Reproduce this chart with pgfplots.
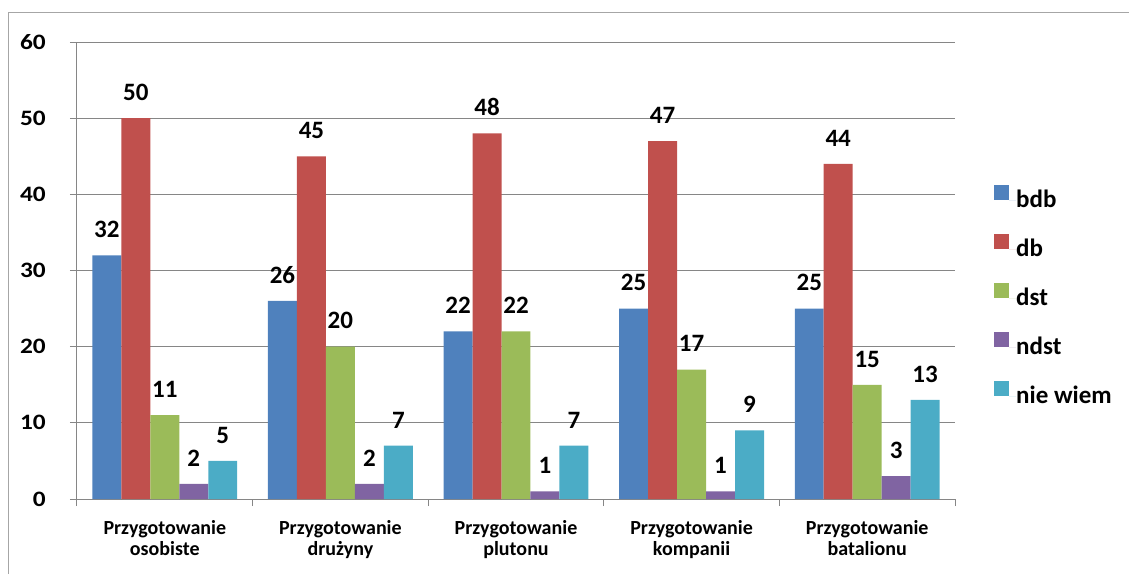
\documentclass[border=0pt]{standalone}
\usepackage{pgfplots}
\pgfplotsset{compat=1.18}
\usepackage{fontspec}
\setmainfont{Carlito}
\newfontfamily\widefont{Carlito}[FakeStretch=1.15]
\definecolor{cbdb}{HTML}{4F81BD}
\definecolor{cdb}{HTML}{C0504D}
\definecolor{cdst}{HTML}{9BBB59}
\definecolor{cndst}{HTML}{8064A2}
\definecolor{cnw}{HTML}{4BACC6}
\definecolor{gridgray}{HTML}{868686}
\definecolor{framegray}{HTML}{A6A6A6}
\begin{document}
\begin{tikzpicture}
\useasboundingbox (0pt,0pt) rectangle (1129pt,574pt);
\draw[framegray, line width=1pt] (8pt,0pt) -- (8pt,561pt) -- (1129pt,561pt);
\begin{axis}[
  at={(77pt,75pt)}, anchor=south west,
  scale only axis, width=878pt, height=457pt,
  ybar=0pt, bar width=0.165,
  xmin=-0.5, xmax=4.5, ymin=0, ymax=60,
  ytick={0,10,...,60},
  yticklabels={0,10,20,30,40,50,60},
  xtick={0,1,2,3,4},
  xticklabels={{Przygotowanie\\osobiste},{Przygotowanie\\drużyny},{Przygotowanie\\plutonu},{Przygotowanie\\kompanii},{Przygotowanie\\batalionu}},
  minor xtick={-0.5,0.5,1.5,2.5,3.5,4.5},
  axis x line=bottom, axis y line=left,
  axis line style={-, draw=gridgray, line width=1pt},
  tick align=outside,
  major tick length=7pt, minor tick length=7pt,
  xtick style={draw=none},
  minor x tick style={draw=gridgray, line width=1pt},
  ytick style={draw=gridgray, line width=1pt},
  ymajorgrids, grid style={draw=gridgray, line width=1pt},
  /pgf/number format/assume math mode=true,
  every y tick label/.append style={font=\widefont\fontsize{22}{26}\selectfont\bfseries, inner sep=0pt, anchor=east, xshift=-24pt},
  xticklabel style={font=\fontsize{20}{21}\selectfont\bfseries, align=center, inner sep=0pt, yshift=-14pt},
  nodes near coords,
  every node near coord/.append style={font=\fontsize{25}{28}\selectfont\bfseries, text=black, yshift=14pt},
  legend style={draw=none, fill=none, at={(1.041,0.692)}, anchor=north west,
    font=\fontsize{25}{28}\selectfont\bfseries,
    nodes={inner sep=0pt, text height=18pt, text depth=5pt},
    row sep=21.5pt},
  legend cell align=left,
  legend image code/.code={\fill[#1] (0pt,1pt) rectangle (15pt,16pt); \path (15pt,0pt) -- (22pt,0pt);},
  clip=false,
]
\addplot[fill=cbdb, draw=none] coordinates {(0,32) (1,26) (2,22) (3,25) (4,25)};
\addplot[fill=cdb, draw=none] coordinates {(0,50) (1,45) (2,48) (3,47) (4,44)};
\addplot[fill=cdst, draw=none] coordinates {(0,11) (1,20) (2,22) (3,17) (4,15)};
\addplot[fill=cndst, draw=none] coordinates {(0,2) (1,2) (2,1) (3,1) (4,3)};
\addplot[fill=cnw, draw=none] coordinates {(0,5) (1,7) (2,7) (3,9) (4,13)};
\legend{bdb,db,dst,ndst,nie wiem}
\end{axis}
\end{tikzpicture}
\end{document}
